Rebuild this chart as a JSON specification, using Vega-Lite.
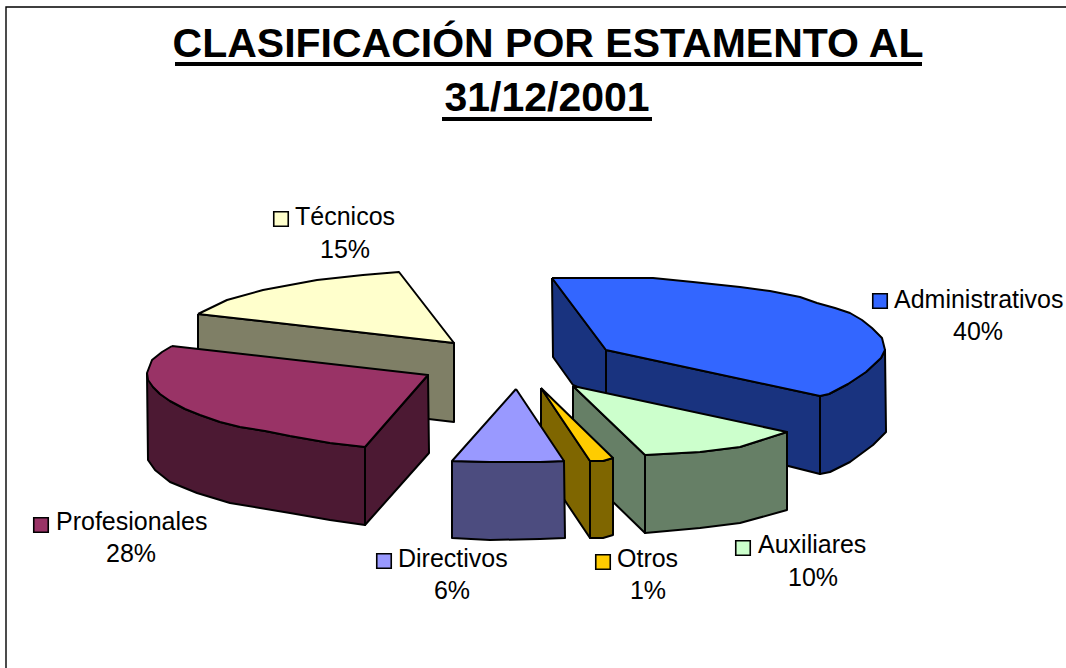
{"$schema":"https://vega.github.io/schema/vega-lite/v6.json","width":1066,"height":668,"autosize":"none","padding":0,"background":"white","config":{"view":{"stroke":null}},
"datasets":{
"frame":[{"i":0,"x":6,"y":668},{"i":1,"x":6,"y":7},{"i":2,"x":1066,"y":7}],
"under":[{"x":175,"x2":922,"y":64},{"x":442,"x2":652,"y":119}],
"titles":[{"t":"CLASIFICACIÓN POR ESTAMENTO AL","x":548,"y":45},{"t":"31/12/2001","x":547,"y":99}],
"names":[{"t":"Técnicos","x":295,"y":217,"sx":281,"sy":219,"c":"#FFFFCC"},{"t":"Administrativos","x":894,"y":300,"sx":880,"sy":301,"c":"#3366FF"},{"t":"Profesionales","x":56,"y":522,"sx":41,"sy":525,"c":"#993366"},{"t":"Directivos","x":398,"y":559,"sx":384,"sy":561,"c":"#9999FF"},{"t":"Otros","x":617,"y":559,"sx":603,"sy":562,"c":"#FFCC00"},{"t":"Auxiliares","x":758,"y":545,"sx":743,"sy":548,"c":"#CCFFCC"}],
"pcts":[{"t":"15%","x":345,"y":250},{"t":"40%","x":978,"y":332},{"t":"28%","x":131,"y":554},{"t":"6%","x":452,"y":591},{"t":"1%","x":648,"y":591},{"t":"10%","x":813,"y":578}],
"faces":[
{"f":"01","c":"#7F7F66","i":0,"x":198,"y":314},{"f":"01","c":"#7F7F66","i":1,"x":454,"y":343},{"f":"01","c":"#7F7F66","i":2,"x":454,"y":422},{"f":"01","c":"#7F7F66","i":3,"x":198,"y":392},{"f":"01","c":"#7F7F66","i":4,"x":198,"y":314},
{"f":"02","c":"#FFFFCC","i":0,"x":198,"y":314},{"f":"02","c":"#FFFFCC","i":1,"x":227,"y":300},{"f":"02","c":"#FFFFCC","i":2,"x":263,"y":290},{"f":"02","c":"#FFFFCC","i":3,"x":317,"y":280},{"f":"02","c":"#FFFFCC","i":4,"x":363,"y":275},{"f":"02","c":"#FFFFCC","i":5,"x":399,"y":272},{"f":"02","c":"#FFFFCC","i":6,"x":454,"y":343},{"f":"02","c":"#FFFFCC","i":7,"x":198,"y":314},
{"f":"03","c":"#4C1933","i":0,"x":365,"y":447},{"f":"03","c":"#4C1933","i":1,"x":428,"y":375},{"f":"03","c":"#4C1933","i":2,"x":429,"y":453},{"f":"03","c":"#4C1933","i":3,"x":365,"y":525},{"f":"03","c":"#4C1933","i":4,"x":365,"y":447},
{"f":"04","c":"#4C1933","i":0,"x":147,"y":373},{"f":"04","c":"#4C1933","i":1,"x":153,"y":387},{"f":"04","c":"#4C1933","i":2,"x":160,"y":394},{"f":"04","c":"#4C1933","i":3,"x":170,"y":401},{"f":"04","c":"#4C1933","i":4,"x":185,"y":409},{"f":"04","c":"#4C1933","i":5,"x":200,"y":415},{"f":"04","c":"#4C1933","i":6,"x":220,"y":422},{"f":"04","c":"#4C1933","i":7,"x":240,"y":427},{"f":"04","c":"#4C1933","i":8,"x":265,"y":431},{"f":"04","c":"#4C1933","i":9,"x":290,"y":436},{"f":"04","c":"#4C1933","i":10,"x":330,"y":443},{"f":"04","c":"#4C1933","i":11,"x":365,"y":447},{"f":"04","c":"#4C1933","i":12,"x":365,"y":525},{"f":"04","c":"#4C1933","i":13,"x":330,"y":520},{"f":"04","c":"#4C1933","i":14,"x":290,"y":513},{"f":"04","c":"#4C1933","i":15,"x":230,"y":503},{"f":"04","c":"#4C1933","i":16,"x":197,"y":493},{"f":"04","c":"#4C1933","i":17,"x":170,"y":482},{"f":"04","c":"#4C1933","i":18,"x":155,"y":470},{"f":"04","c":"#4C1933","i":19,"x":148,"y":460},{"f":"04","c":"#4C1933","i":20,"x":147,"y":373},
{"f":"05","c":"#993366","i":0,"x":172,"y":346},{"f":"05","c":"#993366","i":1,"x":428,"y":375},{"f":"05","c":"#993366","i":2,"x":365,"y":447},{"f":"05","c":"#993366","i":3,"x":330,"y":443},{"f":"05","c":"#993366","i":4,"x":290,"y":436},{"f":"05","c":"#993366","i":5,"x":265,"y":431},{"f":"05","c":"#993366","i":6,"x":240,"y":427},{"f":"05","c":"#993366","i":7,"x":220,"y":422},{"f":"05","c":"#993366","i":8,"x":200,"y":415},{"f":"05","c":"#993366","i":9,"x":185,"y":409},{"f":"05","c":"#993366","i":10,"x":170,"y":401},{"f":"05","c":"#993366","i":11,"x":160,"y":394},{"f":"05","c":"#993366","i":12,"x":153,"y":387},{"f":"05","c":"#993366","i":13,"x":148,"y":380},{"f":"05","c":"#993366","i":14,"x":147,"y":373},{"f":"05","c":"#993366","i":15,"x":152,"y":360},{"f":"05","c":"#993366","i":16,"x":162,"y":352},{"f":"05","c":"#993366","i":17,"x":172,"y":346},
{"f":"06","c":"#19337F","i":0,"x":552,"y":278},{"f":"06","c":"#19337F","i":1,"x":606,"y":350},{"f":"06","c":"#19337F","i":2,"x":606,"y":400},{"f":"06","c":"#19337F","i":3,"x":573,"y":385},{"f":"06","c":"#19337F","i":4,"x":553,"y":357},{"f":"06","c":"#19337F","i":5,"x":552,"y":278},
{"f":"07","c":"#19337F","i":0,"x":606,"y":350},{"f":"07","c":"#19337F","i":1,"x":820,"y":396},{"f":"07","c":"#19337F","i":2,"x":820,"y":474},{"f":"07","c":"#19337F","i":3,"x":606,"y":420},{"f":"07","c":"#19337F","i":4,"x":606,"y":350},
{"f":"08","c":"#19337F","i":0,"x":820,"y":396},{"f":"08","c":"#19337F","i":1,"x":829,"y":394},{"f":"08","c":"#19337F","i":2,"x":848,"y":384},{"f":"08","c":"#19337F","i":3,"x":866,"y":372},{"f":"08","c":"#19337F","i":4,"x":881,"y":358},{"f":"08","c":"#19337F","i":5,"x":885,"y":350},{"f":"08","c":"#19337F","i":6,"x":886,"y":432},{"f":"08","c":"#19337F","i":7,"x":873,"y":445},{"f":"08","c":"#19337F","i":8,"x":850,"y":462},{"f":"08","c":"#19337F","i":9,"x":830,"y":472},{"f":"08","c":"#19337F","i":10,"x":820,"y":474},{"f":"08","c":"#19337F","i":11,"x":820,"y":396},
{"f":"09","c":"#3366FF","i":0,"x":552,"y":278},{"f":"09","c":"#3366FF","i":1,"x":653,"y":278},{"f":"09","c":"#3366FF","i":2,"x":693,"y":282},{"f":"09","c":"#3366FF","i":3,"x":740,"y":287},{"f":"09","c":"#3366FF","i":4,"x":770,"y":291},{"f":"09","c":"#3366FF","i":5,"x":800,"y":297},{"f":"09","c":"#3366FF","i":6,"x":817,"y":303},{"f":"09","c":"#3366FF","i":7,"x":835,"y":308},{"f":"09","c":"#3366FF","i":8,"x":850,"y":313},{"f":"09","c":"#3366FF","i":9,"x":862,"y":320},{"f":"09","c":"#3366FF","i":10,"x":872,"y":328},{"f":"09","c":"#3366FF","i":11,"x":882,"y":338},{"f":"09","c":"#3366FF","i":12,"x":885,"y":350},{"f":"09","c":"#3366FF","i":13,"x":881,"y":358},{"f":"09","c":"#3366FF","i":14,"x":866,"y":372},{"f":"09","c":"#3366FF","i":15,"x":848,"y":384},{"f":"09","c":"#3366FF","i":16,"x":829,"y":394},{"f":"09","c":"#3366FF","i":17,"x":820,"y":396},{"f":"09","c":"#3366FF","i":18,"x":606,"y":350},{"f":"09","c":"#3366FF","i":19,"x":552,"y":278},
{"f":"10","c":"#667F66","i":0,"x":573,"y":386},{"f":"10","c":"#667F66","i":1,"x":645,"y":455},{"f":"10","c":"#667F66","i":2,"x":645,"y":533},{"f":"10","c":"#667F66","i":3,"x":573,"y":463},{"f":"10","c":"#667F66","i":4,"x":573,"y":386},
{"f":"11","c":"#667F66","i":0,"x":645,"y":455},{"f":"11","c":"#667F66","i":1,"x":700,"y":452},{"f":"11","c":"#667F66","i":2,"x":740,"y":447},{"f":"11","c":"#667F66","i":3,"x":787,"y":432},{"f":"11","c":"#667F66","i":4,"x":787,"y":510},{"f":"11","c":"#667F66","i":5,"x":740,"y":523},{"f":"11","c":"#667F66","i":6,"x":700,"y":528},{"f":"11","c":"#667F66","i":7,"x":645,"y":533},{"f":"11","c":"#667F66","i":8,"x":645,"y":455},
{"f":"12","c":"#CCFFCC","i":0,"x":573,"y":386},{"f":"12","c":"#CCFFCC","i":1,"x":787,"y":432},{"f":"12","c":"#CCFFCC","i":2,"x":740,"y":447},{"f":"12","c":"#CCFFCC","i":3,"x":700,"y":452},{"f":"12","c":"#CCFFCC","i":4,"x":645,"y":455},{"f":"12","c":"#CCFFCC","i":5,"x":573,"y":386},
{"f":"13","c":"#7F6600","i":0,"x":541,"y":388},{"f":"13","c":"#7F6600","i":1,"x":590,"y":461},{"f":"13","c":"#7F6600","i":2,"x":590,"y":538},{"f":"13","c":"#7F6600","i":3,"x":541,"y":465},{"f":"13","c":"#7F6600","i":4,"x":541,"y":388},
{"f":"14","c":"#7F6600","i":0,"x":590,"y":461},{"f":"14","c":"#7F6600","i":1,"x":603,"y":461},{"f":"14","c":"#7F6600","i":2,"x":613,"y":458},{"f":"14","c":"#7F6600","i":3,"x":613,"y":535},{"f":"14","c":"#7F6600","i":4,"x":603,"y":538},{"f":"14","c":"#7F6600","i":5,"x":590,"y":538},{"f":"14","c":"#7F6600","i":6,"x":590,"y":461},
{"f":"15","c":"#FFCC00","i":0,"x":541,"y":388},{"f":"15","c":"#FFCC00","i":1,"x":613,"y":458},{"f":"15","c":"#FFCC00","i":2,"x":603,"y":461},{"f":"15","c":"#FFCC00","i":3,"x":590,"y":461},{"f":"15","c":"#FFCC00","i":4,"x":541,"y":388},
{"f":"16","c":"#4C4C7F","i":0,"x":452,"y":461},{"f":"16","c":"#4C4C7F","i":1,"x":490,"y":462},{"f":"16","c":"#4C4C7F","i":2,"x":540,"y":462},{"f":"16","c":"#4C4C7F","i":3,"x":564,"y":461},{"f":"16","c":"#4C4C7F","i":4,"x":565,"y":538},{"f":"16","c":"#4C4C7F","i":5,"x":540,"y":539},{"f":"16","c":"#4C4C7F","i":6,"x":490,"y":540},{"f":"16","c":"#4C4C7F","i":7,"x":452,"y":538},{"f":"16","c":"#4C4C7F","i":8,"x":452,"y":461},
{"f":"17","c":"#9999FF","i":0,"x":516,"y":389},{"f":"17","c":"#9999FF","i":1,"x":564,"y":461},{"f":"17","c":"#9999FF","i":2,"x":540,"y":462},{"f":"17","c":"#9999FF","i":3,"x":490,"y":462},{"f":"17","c":"#9999FF","i":4,"x":452,"y":461},{"f":"17","c":"#9999FF","i":5,"x":516,"y":389}
]},
"layer":[
{"data":{"name":"faces"},"mark":{"type":"line","stroke":"black","strokeWidth":2,"strokeJoin":"round","clip":true},"encoding":{"x":{"field":"x","type":"quantitative","scale":{"domain":[0,1066],"nice":false,"zero":false},"axis":null},"y":{"field":"y","type":"quantitative","scale":{"domain":[668,0],"nice":false,"zero":false},"axis":null},"detail":{"field":"f"},"fill":{"field":"c","type":"nominal","scale":null},"order":{"field":"i","type":"quantitative"}}},
{"data":{"name":"frame"},"mark":{"type":"line","stroke":"black","strokeWidth":1.4},"encoding":{"x":{"field":"x","type":"quantitative"},"y":{"field":"y","type":"quantitative"},"order":{"field":"i","type":"quantitative"}}},
{"data":{"name":"under"},"mark":{"type":"rule","stroke":"black","strokeWidth":4},"encoding":{"x":{"field":"x","type":"quantitative"},"x2":{"field":"x2"},"y":{"field":"y","type":"quantitative"}}},
{"data":{"name":"titles"},"mark":{"type":"text","font":"Liberation Sans","fontWeight":"bold","fontSize":41,"align":"center","baseline":"middle","color":"black"},"encoding":{"x":{"field":"x","type":"quantitative"},"y":{"field":"y","type":"quantitative"},"text":{"field":"t"}}},
{"data":{"name":"names"},"mark":{"type":"point","shape":"square","filled":true,"size":210,"stroke":"black","strokeWidth":1.6,"opacity":1},"encoding":{"x":{"field":"sx","type":"quantitative"},"y":{"field":"sy","type":"quantitative"},"fill":{"field":"c","type":"nominal","scale":null}}},
{"data":{"name":"names"},"mark":{"type":"text","font":"Liberation Sans","fontSize":25,"align":"left","baseline":"middle","color":"black"},"encoding":{"x":{"field":"x","type":"quantitative"},"y":{"field":"y","type":"quantitative"},"text":{"field":"t"}}},
{"data":{"name":"pcts"},"mark":{"type":"text","font":"Liberation Sans","fontSize":25,"align":"center","baseline":"middle","color":"black"},"encoding":{"x":{"field":"x","type":"quantitative"},"y":{"field":"y","type":"quantitative"},"text":{"field":"t"}}}
]}
